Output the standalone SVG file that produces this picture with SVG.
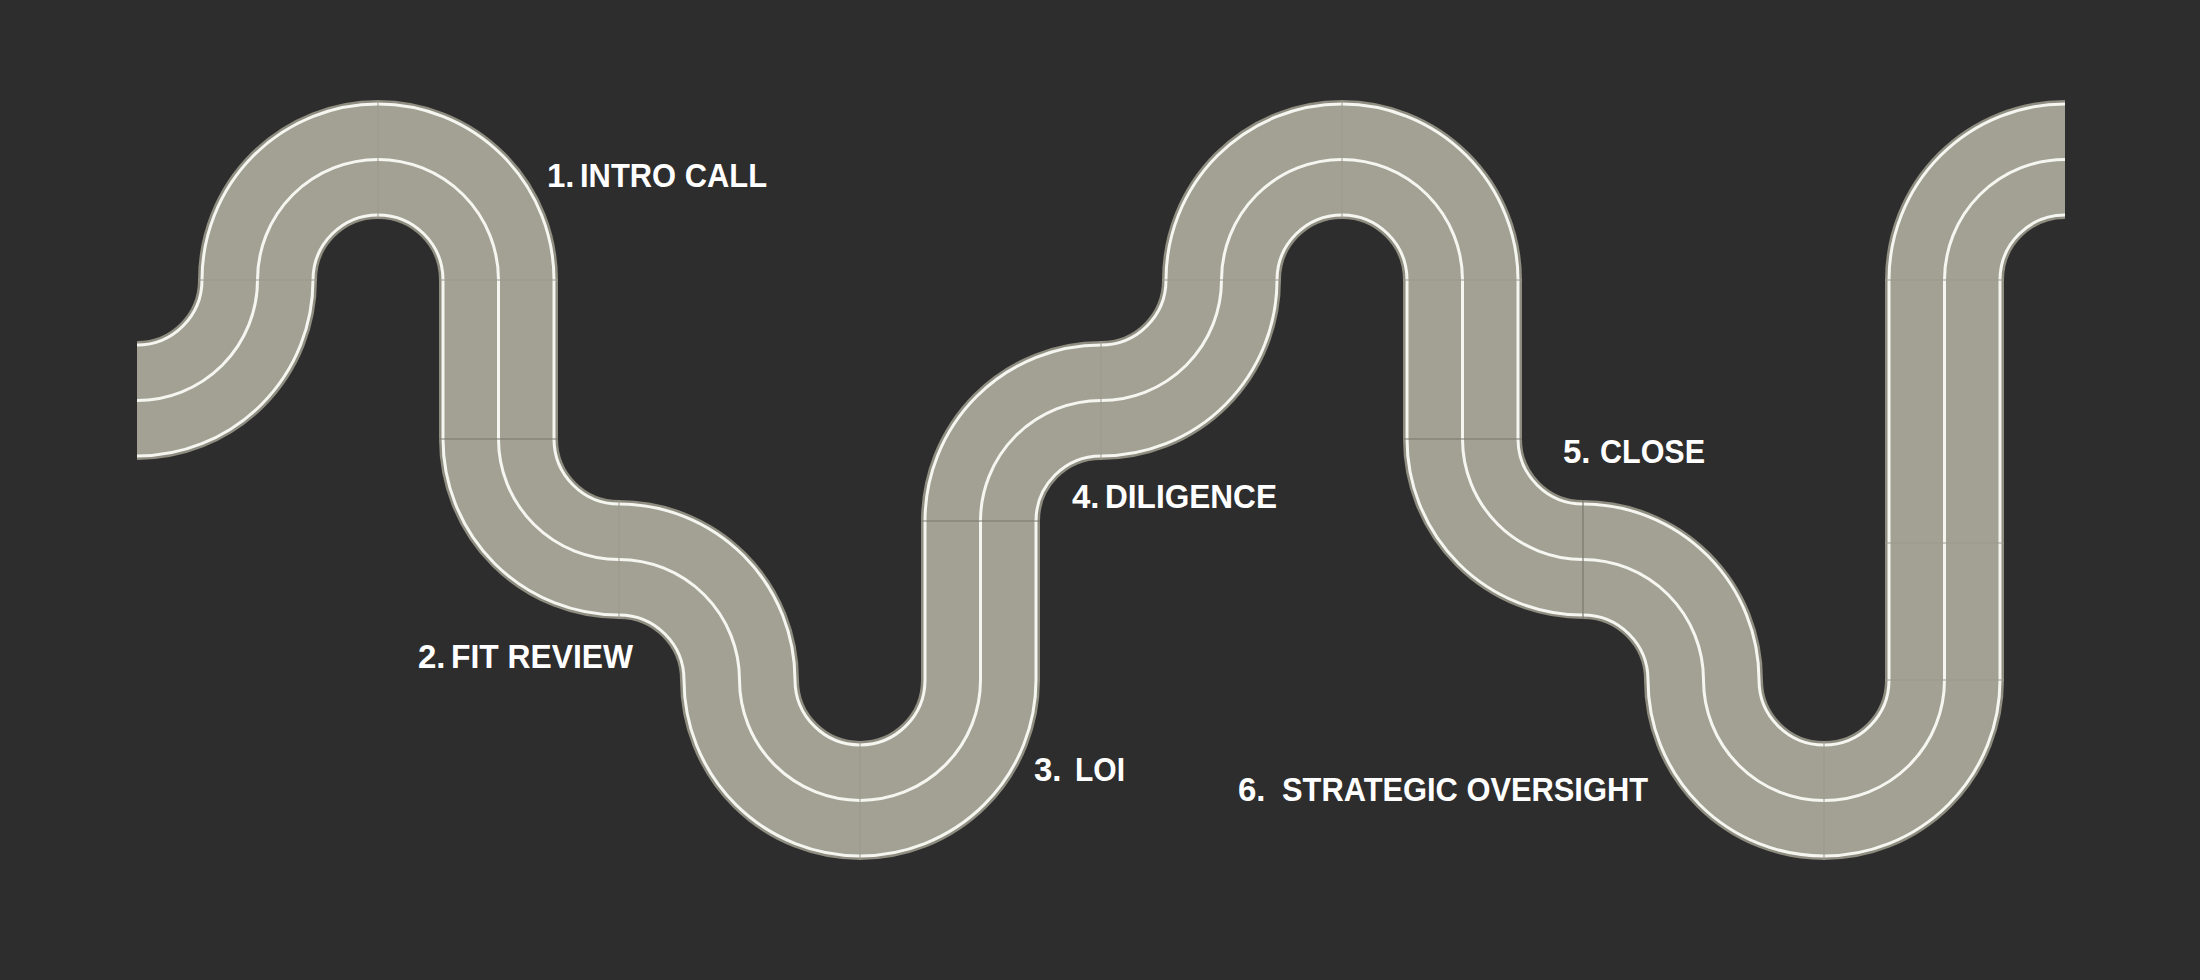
<svg xmlns="http://www.w3.org/2000/svg" xmlns:xlink="http://www.w3.org/1999/xlink" width="2200" height="980" viewBox="0 0 2200 980">
  <style>
    .bg { fill: #2d2d2d; }
    .edge { fill: none; stroke: #8e8d80; stroke-width: 119; stroke-linecap: butt; stroke-linejoin: round; }
    .line { fill: none; stroke: #f6f6f1; stroke-width: 114; stroke-linecap: butt; stroke-linejoin: round; }
    .road { fill: none; stroke: #a2a194; stroke-width: 108; stroke-linecap: butt; stroke-linejoin: round; }
    .mid { fill: none; stroke: #f6f6f1; stroke-width: 3; stroke-linecap: butt; }
    .seam { stroke: #9b9a8d; stroke-width: 1; }
    .seam-dark { stroke: #7a796e; stroke-width: 1.2; }
    .label { font-family: "Liberation Sans", Arial, sans-serif; font-weight: 700; font-size: 33px; fill: #ffffff; }
  </style>
  <defs>
    <path id="centerline" d="M 137 400.5
      A 120.5 120.5 0 0 0 257.5 280
      A 120.5 120.5 0 0 1 498.5 280
      L 498.5 439
      A 120.5 120.5 0 0 0 619 559.5
      A 120.5 120.5 0 0 1 739.5 680
      A 120.5 120.5 0 0 0 980.5 680
      L 980.5 521
      A 120.5 120.5 0 0 1 1101 400.5
      A 120.5 120.5 0 0 0 1221.5 280
      A 120.5 120.5 0 0 1 1462.5 280
      L 1462.5 439
      A 120.5 120.5 0 0 0 1583 559.5
      A 120.5 120.5 0 0 1 1703.5 680
      A 120.5 120.5 0 0 0 1944.5 680
      L 1944.5 280
      A 120.5 120.5 0 0 1 2065 159.5"/>
  </defs>

  <rect class="bg" x="0" y="0" width="2200" height="980"/>

  <g id="connectors">
    <g id="track">
      <use xlink:href="#centerline" href="#centerline" class="edge"/>
      <use xlink:href="#centerline" href="#centerline" class="line"/>
      <use xlink:href="#centerline" href="#centerline" class="road"/>
      <use xlink:href="#centerline" href="#centerline" class="mid"/>
    </g>
    <g id="tile-seams">
      <line class="seam" x1="198" y1="280" x2="317" y2="280"/>
      <line class="seam" x1="439" y1="280" x2="558" y2="280"/>
      <line class="seam" x1="378" y1="101" x2="378" y2="218"/>
      <line class="seam-dark" x1="439" y1="439" x2="558" y2="439"/>
      <line class="seam" x1="619" y1="500" x2="619" y2="619"/>
      <line class="seam" x1="860" y1="741" x2="860" y2="860"/>
      <line class="seam-dark" x1="921" y1="521" x2="1040" y2="521"/>
      <line class="seam" x1="1101" y1="341" x2="1101" y2="460"/>
      <line class="seam" x1="1162" y1="280" x2="1281" y2="280"/>
      <line class="seam" x1="1403" y1="280" x2="1522" y2="280"/>
      <line class="seam" x1="1342" y1="101" x2="1342" y2="218"/>
      <line class="seam-dark" x1="1403" y1="439" x2="1522" y2="439"/>
      <line class="seam-dark" x1="1583" y1="500" x2="1583" y2="619"/>
      <line class="seam" x1="1824" y1="741" x2="1824" y2="860"/>
      <line class="seam" x1="1885" y1="543" x2="2004" y2="543"/>
      <line class="seam" x1="1885" y1="680" x2="2004" y2="680"/>
      <line class="seam" x1="1885" y1="280" x2="2004" y2="280"/>
    </g>
  </g>

  <g id="stage-1">
    <text class="label" y="187"><tspan x="547">1.</tspan> <tspan x="580" textLength="187" lengthAdjust="spacingAndGlyphs">INTRO CALL</tspan></text>
  </g>
  <g id="stage-2">
    <text class="label" y="668"><tspan x="418">2.</tspan> <tspan x="451" textLength="182" lengthAdjust="spacingAndGlyphs">FIT REVIEW</tspan></text>
  </g>
  <g id="stage-3">
    <text class="label" y="781"><tspan x="1034">3.</tspan> <tspan x="1075" textLength="50" lengthAdjust="spacingAndGlyphs">LOI</tspan></text>
  </g>
  <g id="stage-4">
    <text class="label" y="508"><tspan x="1072">4.</tspan><tspan x="1105" textLength="172" lengthAdjust="spacingAndGlyphs">DILIGENCE</tspan></text>
  </g>
  <g id="stage-5">
    <text class="label" y="463"><tspan x="1563">5.</tspan> <tspan x="1600" textLength="105" lengthAdjust="spacingAndGlyphs">CLOSE</tspan></text>
  </g>
  <g id="stage-6">
    <text class="label" y="801"><tspan x="1238">6.</tspan> <tspan x="1282" textLength="366" lengthAdjust="spacingAndGlyphs">STRATEGIC OVERSIGHT</tspan></text>
  </g>
</svg>
